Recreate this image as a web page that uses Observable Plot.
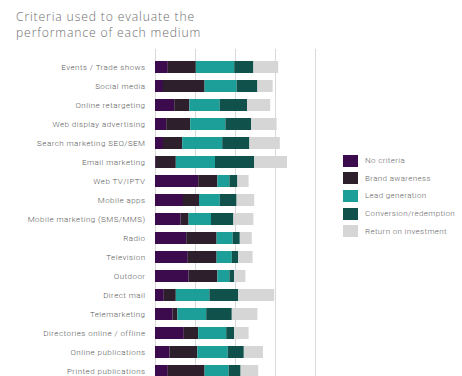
<!DOCTYPE html>
<html>
<head>
<meta charset="utf-8">
<script src="https://cdn.jsdelivr.net/npm/d3@7"></script>
<script src="https://cdn.jsdelivr.net/npm/@observablehq/plot@0.6"></script>
<style>
  html, body { margin: 0; padding: 0; background: #fff; overflow: hidden; }
  #wrap { position: relative; width: 462px; height: 376px; overflow: hidden; }
  #title { position: absolute; left: 16px; top: 8.5px; font-family: "Open Sans", sans-serif; font-size: 12.2px; line-height: 16px; color: #6e6e6e; letter-spacing: 0.85px; font-weight: 300; }
  #chart { position: absolute; left: 0; top: 44px; }
  #legend { position: absolute; left: 343px; top: 152px; font-family: Roboto, sans-serif; font-size: 8px; color: #666; letter-spacing: 0.35px; font-weight: 300; }
  .row { display: flex; align-items: center; height: 17.6px; }
  .sw { width: 15px; height: 12px; margin-right: 7px; }
</style>
</head>
<body>
<div id="wrap">
  <div id="title">Criteria used to evaluate the<br>performance of each medium</div>
  <div id="chart"></div>
  <div id="legend"></div>
</div>
<script>
const media = [
  "Events / Trade shows", "Social media", "Online retargeting", "Web display advertising",
  "Search marketing SEO/SEM", "Email marketing", "Web TV/IPTV", "Mobile apps",
  "Mobile marketing (SMS/MMS)", "Radio", "Television", "Outdoor", "Direct mail",
  "Telemarketing", "Directories online / offline", "Online publications", "Printed publications"
];
const criteria = ["No criteria", "Brand awareness", "Lead generation", "Conversion/redemption", "Return on investment"];
const colors = ["#3b0b4d", "#2d202c", "#1c9f98", "#10524b", "#d6d6d6"];

const noCriteria     = [8,   5,   12,   7,  5,  0.5, 27,   17.5, 16,  19.5, 20.5, 21,  5.5, 11,  18,   9,    8];
const brandAwareness = [17.5,26,  9.5, 15, 12,  12.5, 12,   10,    5,  19,   18,   18,  7.5,  3,   9,   17.5, 23];
const leadGeneration = [24,  20,  19,  22, 25,  24.5, 7.5,  13,   14,  10,    9.5,  7.5, 21, 18,  17.5, 19,  15];
const conversion     = [12,  13,  17,  16, 17,  24.5, 5,    10.5, 14,   4.5,  4,    3,  18, 16,   5,   10,   7.5];
const roi            = [15.5, 9.5,14.5,16, 19,  20.5, 7,    11,   12.5, 7.5,  9,    7,  22.5,16,  9,   12,  11];
const gridTicks = [0, 25, 50, 75, 100];

const series = [noCriteria, brandAwareness, leadGeneration, conversion, roi];
const data = [];
media.forEach((m, i) => {
  criteria.forEach((c, j) => data.push({medium: m, criterion: c, value: series[j][i]}));
});

const plot = Plot.plot({
  width: 462,
  height: 345,
  marginLeft: 155,
  marginRight: 147,
  marginTop: 5,
  marginBottom: 0,
  style: {fontFamily: "Roboto, sans-serif", fontSize: "8px", color: "#5a5a5a", background: "transparent", letterSpacing: "0.45px", fontWeight: 300},
  x: {domain: [0, 100], axis: null},
  y: {domain: media, paddingInner: 0.35, paddingOuter: 0.24, label: null, tickSize: 0, tickPadding: 10},
  color: {domain: criteria, range: colors},
  marks: [
    Plot.ruleX(gridTicks, {stroke: "#d9d9d9", strokeWidth: 1}),
    Plot.barX(data, Plot.stackX({y: "medium", x: "value", fill: "criterion", z: "criterion", order: criteria})),
    Plot.axisY({tickSize: 0, tickPadding: 10})
  ]
});
document.getElementById("chart").appendChild(plot);

const legend = document.getElementById("legend");
criteria.forEach((c, i) => {
  const row = document.createElement("div");
  row.className = "row";
  const sw = document.createElement("div");
  sw.className = "sw";
  sw.style.background = colors[i];
  const t = document.createElement("span");
  t.textContent = c;
  row.appendChild(sw);
  row.appendChild(t);
  legend.appendChild(row);
});
</script>
</body>
</html>
